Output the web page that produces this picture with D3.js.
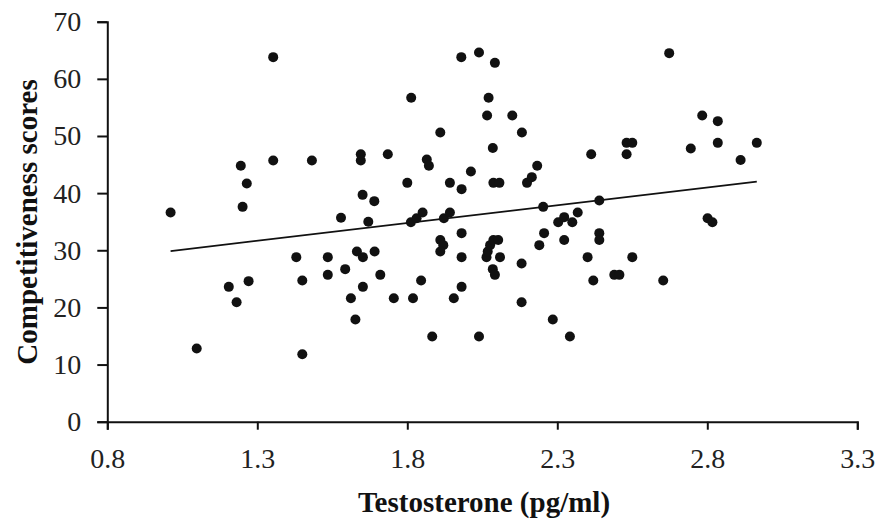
<!DOCTYPE html>
<html><head><meta charset="utf-8">
<script src="https://cdn.jsdelivr.net/npm/d3@7"></script>
<style>
html,body{margin:0;padding:0;background:#fff;}
svg{display:block;}
</style></head>
<body>
<svg id="chart" width="881" height="523"></svg>
<script>
const testosterone = [1.011,1.098,1.205,1.231,1.245,1.251,1.265,1.271,1.353,1.353,1.43,1.45,1.45,1.482,1.535,1.535,1.579,1.593,1.612,1.627,1.632,1.645,1.645,1.651,1.652,1.652,1.670,1.690,1.691,1.71,1.735,1.755,1.800,1.813,1.812,1.819,1.831,1.846,1.851,1.865,1.872,1.883,1.91,1.91,1.92,1.91,1.922,1.942,1.942,1.955,1.980,1.981,1.981,1.981,1.981,2.012,2.039,2.039,2.066,2.071,2.064,2.068,2.076,2.085,2.085,2.087,2.087,2.092,2.092,2.103,2.107,2.109,2.150,2.181,2.181,2.182,2.199,2.215,2.233,2.24,2.253,2.256,2.285,2.303,2.323,2.323,2.342,2.35,2.368,2.401,2.413,2.42,2.44,2.44,2.44,2.49,2.507,2.531,2.55,2.531,2.55,2.653,2.673,2.745,2.783,2.801,2.817,2.835,2.835,2.911,2.965];
const competitiveness = [36.6,12.8,23.6,20.9,44.8,37.6,41.7,24.6,63.8,45.7,28.8,24.7,11.8,45.7,28.8,25.7,35.7,26.7,21.6,17.9,29.8,46.8,45.7,39.7,28.8,23.6,35.0,38.6,29.8,25.7,46.8,21.6,41.8,56.7,34.9,21.6,35.6,24.7,36.6,45.9,44.8,14.9,50.6,31.8,30.9,29.8,35.6,36.6,41.8,21.6,63.8,40.7,33.0,28.8,23.6,43.8,64.6,14.9,53.6,56.7,28.8,29.8,30.9,47.9,26.7,41.8,31.8,62.8,25.7,31.8,41.8,28.8,53.6,27.7,20.9,50.6,41.8,42.8,44.8,30.9,37.6,33.0,17.9,34.9,35.8,31.8,14.9,34.9,36.6,28.8,46.8,24.7,38.7,33.0,31.8,25.7,25.7,48.8,48.8,46.8,28.8,24.7,64.5,47.8,53.6,35.6,34.9,52.6,48.8,45.8,48.8];
const xTicks = [0.8,1.3,1.8,2.3,2.8,3.3];
const yTicks = [0,10,20,30,40,50,60,70];
const trendIntercept = 23.58;
const trendSlope = 6.22;
const xTitle = "Testosterone (pg/ml)";
const yTitle = "Competitiveness scores";

const svg = d3.select("#chart");
const x = d3.scaleLinear().domain([0.8,3.3]).range([107.3,857.3]);
const y = d3.scaleLinear().domain([0,70]).range([421.7,21.7]);

const font = "'Liberation Serif','Times New Roman',serif";

// axes
const xAxis = svg.append("g").attr("transform",`translate(0,${y(0)})`)
  .call(d3.axisBottom(x).tickValues(xTicks).tickFormat(d3.format(".1f")).tickSizeOuter(0).tickSize(8).tickPadding(18));
const yAxis = svg.append("g").attr("transform",`translate(${x(0.8)},0)`)
  .call(d3.axisLeft(y).tickValues(yTicks).tickFormat(d3.format("d")).tickSizeOuter(0).tickSize(10).tickPadding(16));
[xAxis,yAxis].forEach(g=>{
  g.selectAll("path.domain").attr("stroke","#111").attr("stroke-width",2);
  g.selectAll(".tick line").attr("stroke","#111").attr("stroke-width",2);
  g.selectAll(".tick text").attr("fill","#222").style("font-family",font).style("font-size","28px");
});

// trendline
const xs = d3.extent(testosterone);
svg.append("line")
  .attr("x1",x(xs[0])).attr("y1",y(trendIntercept+trendSlope*xs[0]))
  .attr("x2",x(xs[1])).attr("y2",y(trendIntercept+trendSlope*xs[1]))
  .attr("stroke","#111").attr("stroke-width",1.8);

// points
svg.append("g").selectAll("circle").data(testosterone.map((t,i)=>[t,competitiveness[i]]))
  .join("circle").attr("cx",d=>x(d[0])).attr("cy",d=>y(d[1])).attr("r",5).attr("fill","#111");

// titles
svg.append("text").attr("x",484).attr("y",512).attr("text-anchor","middle")
  .style("font-family",font).style("font-size","29px").style("font-weight","bold").attr("fill","#111").text(xTitle);
svg.append("text").attr("transform","translate(37,222) rotate(-90)").attr("text-anchor","middle")
  .style("font-family",font).style("font-size","29px").style("font-weight","bold").attr("fill","#111").text(yTitle);
</script>
</body></html>
